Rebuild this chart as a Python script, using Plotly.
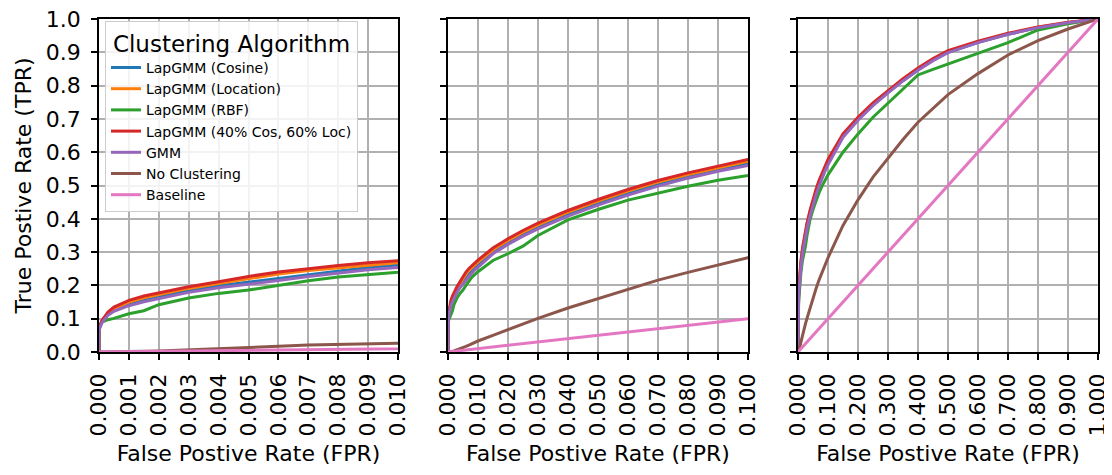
import plotly.graph_objects as go

# Shared false-positive-rate grid (read from the three zoom levels)
fpr = [0.0, 0.0, 0.0001, 0.0003, 0.0005, 0.001, 0.0015, 0.002, 0.003, 0.004,
       0.005, 0.006, 0.007, 0.008, 0.009, 0.01, 0.015, 0.02, 0.025, 0.03,
       0.04, 0.05, 0.06, 0.07, 0.08, 0.09, 0.1, 0.15, 0.2, 0.25,
       0.3, 0.35, 0.4, 0.45, 0.5, 0.6, 0.7, 0.8, 0.9, 1.0]

tpr_cosine = [0, 0.07, 0.092, 0.115, 0.128, 0.146, 0.158, 0.168, 0.186, 0.199,
              0.210, 0.222, 0.234, 0.245, 0.254, 0.261, 0.300, 0.328, 0.353, 0.375,
              0.413, 0.447, 0.477, 0.504, 0.528, 0.549, 0.568, 0.648, 0.699, 0.743,
              0.780, 0.816, 0.848, 0.876, 0.900, 0.930, 0.954, 0.974, 0.989, 1.0]
tpr_location = [0, 0.07, 0.093, 0.117, 0.131, 0.150, 0.163, 0.173, 0.191, 0.206,
                0.221, 0.234, 0.245, 0.254, 0.262, 0.270, 0.307, 0.335, 0.360, 0.382,
                0.420, 0.453, 0.483, 0.510, 0.533, 0.554, 0.573, 0.651, 0.701, 0.745,
                0.782, 0.818, 0.850, 0.878, 0.902, 0.931, 0.955, 0.975, 0.989, 1.0]
tpr_rbf = [0, 0.08, 0.09, 0.097, 0.101, 0.115, 0.124, 0.142, 0.162, 0.176,
           0.186, 0.200, 0.214, 0.225, 0.233, 0.241, 0.275, 0.295, 0.318, 0.350,
           0.397, 0.428, 0.456, 0.478, 0.498, 0.516, 0.532, 0.600, 0.655, 0.705,
           0.748, 0.792, 0.832, 0.849, 0.865, 0.896, 0.929, 0.967, 0.986, 1.0]
tpr_mix = [0, 0.07, 0.095, 0.12, 0.135, 0.155, 0.168, 0.178, 0.196, 0.211,
           0.227, 0.240, 0.251, 0.260, 0.268, 0.276, 0.312, 0.340, 0.365, 0.387,
           0.425, 0.458, 0.488, 0.515, 0.538, 0.559, 0.578, 0.655, 0.705, 0.748,
           0.785, 0.821, 0.853, 0.881, 0.905, 0.933, 0.957, 0.976, 0.990, 1.0]
tpr_gmm = [0, 0.065, 0.088, 0.110, 0.122, 0.139, 0.151, 0.161, 0.179, 0.193,
           0.203, 0.215, 0.227, 0.238, 0.247, 0.254, 0.295, 0.323, 0.348, 0.370,
           0.408, 0.441, 0.471, 0.498, 0.522, 0.543, 0.562, 0.645, 0.696, 0.740,
           0.778, 0.814, 0.846, 0.875, 0.899, 0.929, 0.954, 0.974, 0.989, 1.0]
tpr_noclust = [0, 0, 0, 0, 0, 0.001, 0.002, 0.003, 0.006, 0.009,
               0.013, 0.017, 0.021, 0.025, 0.029, 0.033, 0.050, 0.067, 0.085, 0.101,
               0.132, 0.160, 0.190, 0.216, 0.239, 0.262, 0.283, 0.380, 0.457, 0.525,
               0.582, 0.638, 0.690, 0.733, 0.773, 0.836, 0.892, 0.935, 0.970, 1.0]

baseline_fpr = [0.0, 1.0]
baseline_tpr = [0.0, 1.0]

series_names = ["LapGMM (Cosine)", "LapGMM (Location)", "LapGMM (RBF)",
                "LapGMM (40% Cos, 60% Loc)", "GMM", "No Clustering", "Baseline"]
series_x = [fpr, fpr, fpr, fpr, fpr, fpr, baseline_fpr]
series_y = [tpr_cosine, tpr_location, tpr_rbf, tpr_mix, tpr_gmm, tpr_noclust, baseline_tpr]
colors = ["#1f77b4", "#ff7f0e", "#2ca02c", "#d62728", "#9467bd", "#8c564b", "#e377c2"]

x_ranges = [[0, 0.01], [0, 0.1], [0, 1.0]]
x_dticks = [0.001, 0.01, 0.1]
domains = [[0.0, 0.2993], [0.3493, 0.6496], [0.6997, 1.0]]

FONT = "DejaVu Sans"
fig = go.Figure()

for p in range(3):
    xa = "x" if p == 0 else f"x{p+1}"
    ya = "y" if p == 0 else f"y{p+1}"
    for name, xs, ys, c in zip(series_names, series_x, series_y, colors):
        fig.add_trace(go.Scatter(
            x=xs, y=ys, mode="lines", name=name,
            line=dict(color=c, width=3),
            xaxis=xa, yaxis=ya, showlegend=(p == 0),
        ))

axis_common = dict(
    showline=True, linecolor="black", linewidth=1.5, mirror=True,
    ticks="outside", ticklen=6, tickwidth=1.5, tickcolor="black",
    showgrid=True, gridcolor="#b0b0b0", gridwidth=1.5, zeroline=False,
    automargin=False, ticklabeloverflow="allow",
    tickfont=dict(family=FONT, size=22, color="black"),
)

# page body has an 8px margin, so the figure is sized 8px smaller
layout = dict(
    width=1104, height=467,
    margin=dict(l=91, r=14, t=11, b=123),
    paper_bgcolor="white", plot_bgcolor="white",
    font=dict(family=FONT, color="black"),
    legend=dict(
        x=0.006, y=0.994, xanchor="left", yanchor="top",
        bgcolor="rgba(255,255,255,0.85)", bordercolor="#cccccc", borderwidth=1,
        font=dict(family=FONT, size=14, color="black"),
        title=dict(text="Clustering Algorithm", side="top center",
                   font=dict(family=FONT, size=23, color="black")),
        tracegroupgap=0,
    ),
)

for p in range(3):
    xk = "xaxis" if p == 0 else f"xaxis{p+1}"
    yk = "yaxis" if p == 0 else f"yaxis{p+1}"
    layout[xk] = dict(
        axis_common, domain=domains[p], range=x_ranges[p], dtick=x_dticks[p],
        tick0=0, tickformat=".3f", tickangle=-90, ticklabelstandoff=5,
        anchor="y" if p == 0 else f"y{p+1}",
        title=dict(text="False Postive Rate (FPR)", standoff=10,
                   font=dict(family=FONT, size=22, color="black")),
    )
    ydict = dict(
        axis_common, domain=[0, 1], range=[0, 1.0], dtick=0.1, tick0=0,
        tickformat=".1f", ticklabelstandoff=6,
        anchor="x" if p == 0 else f"x{p+1}",
        showticklabels=(p == 0),
    )
    if p == 0:
        ydict["title"] = dict(text="True Postive Rate (TPR)", standoff=8,
                              font=dict(family=FONT, size=22, color="black"))
    layout[yk] = ydict

fig.update_layout(**layout)
fig.write_html("out.html")
